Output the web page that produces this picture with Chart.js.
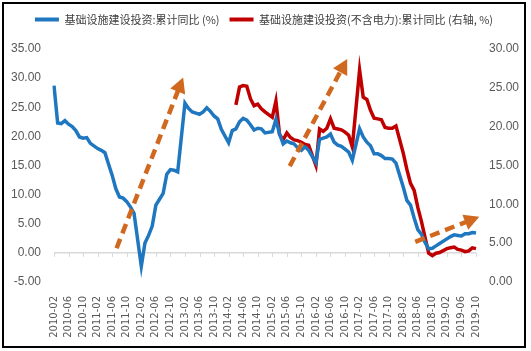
<!DOCTYPE html>
<html>
<head>
<meta charset="utf-8">
<script src="https://cdn.jsdelivr.net/npm/chart.js@4"></script>
<style>
  body { margin: 0; background: #fff; }
  #frame { position: absolute; left: 2px; top: 2px; width: 520px; height: 342px; border: 2px solid #000; }
</style>
</head>
<body>
<div id="frame"><canvas id="infra-chart" width="520" height="342"></canvas></div>
<script>
// months 2010-02 .. 2019-10 (Jan has no own figure, left empty)
const months = [
  "2010-02","2010-03","2010-04","2010-05","2010-06","2010-07","2010-08","2010-09","2010-10","2010-11","2010-12",
  "2011-01","2011-02","2011-03","2011-04","2011-05","2011-06","2011-07","2011-08","2011-09","2011-10","2011-11","2011-12",
  "2012-01","2012-02","2012-03","2012-04","2012-05","2012-06","2012-07","2012-08","2012-09","2012-10","2012-11","2012-12",
  "2013-01","2013-02","2013-03","2013-04","2013-05","2013-06","2013-07","2013-08","2013-09","2013-10","2013-11","2013-12",
  "2014-01","2014-02","2014-03","2014-04","2014-05","2014-06","2014-07","2014-08","2014-09","2014-10","2014-11","2014-12",
  "2015-01","2015-02","2015-03","2015-04","2015-05","2015-06","2015-07","2015-08","2015-09","2015-10","2015-11","2015-12",
  "2016-01","2016-02","2016-03","2016-04","2016-05","2016-06","2016-07","2016-08","2016-09","2016-10","2016-11","2016-12",
  "2017-01","2017-02","2017-03","2017-04","2017-05","2017-06","2017-07","2017-08","2017-09","2017-10","2017-11","2017-12",
  "2018-01","2018-02","2018-03","2018-04","2018-05","2018-06","2018-07","2018-08","2018-09","2018-10","2018-11","2018-12",
  "2019-01","2019-02","2019-03","2019-04","2019-05","2019-06","2019-07","2019-08","2019-09","2019-10"
];

// 基础设施建设投资:累计同比 (left axis)
const infraTotal = [
  28.7, 22.3, 22.2, 22.7, 22.1, 21.7, 21.0, 19.9, 19.7, 19.8, 18.8,
  null, 17.9, 17.6, 17.2, 15.2, 13.3, 11.0, 9.6, 9.4, 8.8, 7.9, 6.8,
  null, -2.3, 1.7, 3.0, 4.6, 8.2, 9.2, 10.2, 13.5, 14.3, 14.2, 13.9,
  null, 25.7, 24.8, 24.2, 24.0, 23.8, 24.2, 24.9, 24.3, 23.5, 23.0, 21.2,
  null, 18.9, 21.0, 21.3, 22.5, 23.1, 22.8, 22.0, 21.1, 21.4, 21.3, 20.6,
  null, 20.8, 22.9, 20.4, 18.7, 19.2, 18.9, 18.7, 18.0, 17.6, 18.2, 17.6,
  null, 15.5, 19.5, 19.7, 19.9, 20.4, 19.0, 18.5, 18.3, 17.8, 17.3, 15.9,
  null, 21.3, 19.9, 19.0, 18.4, 17.0, 17.0, 16.7, 16.2, 16.2, 16.1, 15.4,
  null, 11.3, 9.0, 8.2, 6.0, 4.0, 3.2, 1.8, 0.7, 0.8, 1.2, 1.6,
  null, 2.4, 2.8, 3.1, 3.0, 2.9, 3.3, 3.3, 3.5, 3.4
];

// 基础设施建设投资(不含电力):累计同比 (right axis), from 2014-04
const exPowerStart = "2014-04";
const infraExPower = [
  22.8, 25.1, 25.3, 25.2, 23.6, 22.7, 22.9, 22.3, 21.9,
  null, 21.2, 23.3, 19.0, 18.3, 19.2, 18.6, 18.3, 18.2, 18.0, 17.7, 17.6,
  null, 15.0, 19.7, 19.4, 19.8, 21.0, 19.8, 19.7, 19.6, 19.3, 18.9, 17.4,
  null, 27.3, 23.8, 23.5, 22.1, 21.1, 21.0, 20.9, 19.9, 19.8, 19.8, 20.1,
  null, 16.6, 14.5, 12.7, 11.8, 9.6, 7.8, 5.7, 3.7, 3.4, 3.7, 3.8,
  null, 4.3, 4.4, 4.5, 4.2, 4.1, 3.9, 4.0, 4.4, 4.3
];

const leftTicks = [-5, 0, 5, 10, 15, 20, 25, 30, 35];
const rightTicks = [0, 5, 10, 15, 20, 25, 30];

// dashed trend arrows: [fromIndex, fromValue, toIndex, toValue] on the left axis
const trendArrows = [
  [17.2, 0.8, 35.5, 30.1],
  [64.8, 14.9, 80.6, 33.3],
  [99.3, 1.9, 116.9, 6.2]
];

let exPowerData = new Array(months.indexOf(exPowerStart)).fill(null).concat(infraExPower);

const tickColor = "#595959";

// push the plot down a bit under the legend
const legendGap = {
  id: "legendGap",
  beforeInit(chart) {
    const origFit = chart.legend.fit;
    chart.legend.fit = function () {
      origFit.bind(chart.legend)();
      this.height += 14;
    };
  }
};

const arrowPlugin = {
  id: "trendArrows",
  beforeDatasetsDraw(chart) {
    // small tick marks on the zero line
    const ctx = chart.ctx, xs = chart.scales.x, ys = chart.scales.y;
    let y0 = ys.getPixelForValue(0);
    ctx.save();
    ctx.strokeStyle = "#d9d9d9";
    ctx.lineWidth = 1;
    for (let i = 0; i < months.length; i += 4) {
      let x = Math.round(xs.getPixelForValue(i)) + 0.5;
      ctx.beginPath();
      ctx.moveTo(x, y0);
      ctx.lineTo(x, y0 + 4);
      ctx.stroke();
    }
    ctx.restore();
  },
  afterDatasetsDraw(chart) {
    const ctx = chart.ctx, xs = chart.scales.x, ys = chart.scales.y;
    ctx.save();
    ctx.strokeStyle = "#d0691f";
    ctx.fillStyle = "#d0691f";
    trendArrows.forEach(a => {
      let x1 = xs.getPixelForValue(a[0]), y1 = ys.getPixelForValue(a[1]);
      let x2 = xs.getPixelForValue(a[2]), y2 = ys.getPixelForValue(a[3]);
      let len = Math.hypot(x2 - x1, y2 - y1);
      let ux = (x2 - x1) / len, uy = (y2 - y1) / len;
      let headLen = 15, headHalf = 8;
      let bx = x2 - ux * headLen, by = y2 - uy * headLen;
      ctx.lineWidth = 4.5;
      ctx.setLineDash([10, 6]);
      ctx.beginPath();
      ctx.moveTo(x1, y1);
      ctx.lineTo(bx + ux * 2, by + uy * 2);
      ctx.stroke();
      ctx.setLineDash([]);
      ctx.beginPath();
      ctx.moveTo(x2, y2);
      ctx.lineTo(bx - uy * headHalf, by + ux * headHalf);
      ctx.lineTo(bx + uy * headHalf, by - ux * headHalf);
      ctx.closePath();
      ctx.fill();
    });
    ctx.restore();
  }
};

new Chart("infra-chart", {
  type: "line",
  data: {
    labels: months,
    datasets: [{
      label: "基础设施建设投资:累计同比 (%)",
      data: infraTotal,
      borderColor: "#1f77c0",
      backgroundColor: "#1f77c0",
      borderWidth: 3.5,
      pointRadius: 0,
      tension: 0,
      spanGaps: true,
      yAxisID: "y"
    }, {
      label: "基础设施建设投资(不含电力):累计同比 (右轴, %)",
      data: exPowerData,
      borderColor: "#c00000",
      backgroundColor: "#c00000",
      borderWidth: 3.5,
      pointRadius: 0,
      tension: 0,
      spanGaps: true,
      yAxisID: "y1"
    }]
  },
  options: {
    responsive: false,
    animation: false,
    layout: { padding: { top: 0 } },
    plugins: {
      legend: {
        labels: {
          boxWidth: 24,
          boxHeight: 4,
          padding: 10,
          color: "#404040",
          font: { family: "Noto Sans CJK SC", size: 11 },
          generateLabels: chart => Chart.defaults.plugins.legend.labels.generateLabels(chart).map(l => Object.assign(l, { lineWidth: 0 }))
        }
      },
      tooltip: { enabled: false }
    },
    scales: {
      x: {
        grid: { display: false },
        border: { display: false },
        ticks: {
          autoSkip: false,
          minRotation: 90,
          maxRotation: 90,
          padding: 6,
          color: tickColor,
          font: { family: "DejaVu Sans", size: 10 },
          callback: (v, i) => i % 4 === 0 ? months[i] : null
        },
        afterFit: s => { s.height = 64; }
      },
      y: {
        position: "left",
        min: leftTicks[0],
        max: leftTicks[leftTicks.length - 1],
        afterBuildTicks: s => { s.ticks = leftTicks.map(v => ({ value: v })); },
        ticks: { padding: 13, color: tickColor, font: { family: "Liberation Sans", size: 12 }, callback: v => v.toFixed(2) },
        grid: { drawTicks: false, lineWidth: 1.5, color: c => c.tick && c.tick.value === 0 ? "#d9d9d9" : "rgba(0,0,0,0)" },
        border: { display: false },
        afterFit: s => { s.width = 50; }
      },
      y1: {
        position: "right",
        min: rightTicks[0],
        max: rightTicks[rightTicks.length - 1],
        afterBuildTicks: s => { s.ticks = rightTicks.map(v => ({ value: v })); },
        ticks: { padding: 13, color: tickColor, font: { family: "Liberation Sans", size: 12 }, callback: v => v.toFixed(2) },
        grid: { display: false, drawTicks: false },
        border: { display: false },
        afterFit: s => { s.width = 48; }
      }
    }
  },
  plugins: [legendGap, arrowPlugin]
});
</script>
</body>
</html>
